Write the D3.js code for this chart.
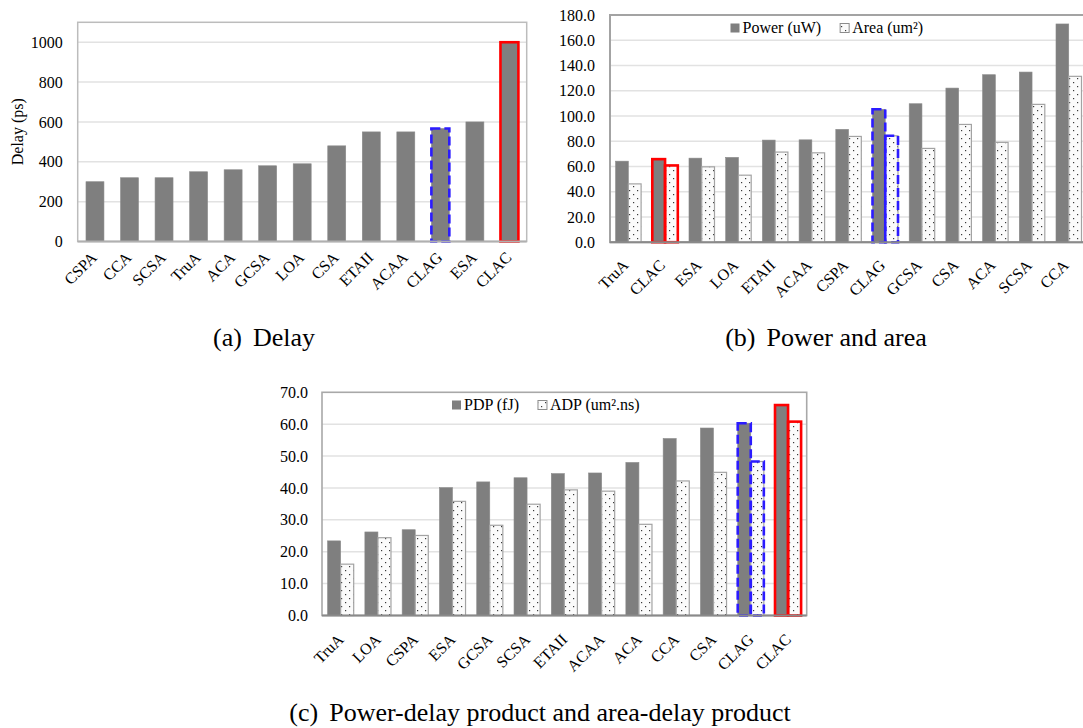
<!DOCTYPE html>
<html>
<head>
<meta charset="utf-8">
<script src="https://cdn.jsdelivr.net/npm/d3@7"></script>
<style>
  body { margin: 0; background: #fff; }
  svg { display: block; }
  text { font-family: "Liberation Serif", "Times New Roman", serif; fill: #000; }
</style>
</head>
<body>
<svg id="fig" width="1083" height="728"></svg>
<script>
// (a) Delay of each adder, in ps
const delayCategories = ["CSPA", "CCA", "SCSA", "TruA", "ACA", "GCSA", "LOA", "CSA", "ETAII", "ACAA", "CLAG", "ESA", "CLAC"];
const delayValues = [300, 320, 320, 350, 360, 380, 390, 480, 550, 550, 567, 600, 1000];
const delayTicks = [0, 200, 400, 600, 800, 1000];

// (b) Power (uW) and area (um²)
const paCategories = ["TruA", "CLAC", "ESA", "LOA", "ETAII", "ACAA", "CSPA", "CLAG", "GCSA", "CSA", "ACA", "SCSA", "CCA"];
const powerValues = [64.2, 65.8, 66.6, 67.2, 80.9, 81.1, 89.4, 105.3, 109.7, 122.1, 132.7, 134.8, 172.9];
const areaValues = [46.2, 60.8, 59.7, 53.1, 71.4, 70.8, 83.8, 84.3, 74.3, 93.3, 79.1, 109.2, 131.4];
const paTicks = [0, 20, 40, 60, 80, 100, 120, 140, 160, 180];
const paLegend = ["Power (uW)", "Area (um²)"];

// (c) Power-delay product (fJ) and area-delay product (um².ns)
const pdCategories = ["TruA", "LOA", "CSPA", "ESA", "GCSA", "SCSA", "ETAII", "ACAA", "ACA", "CCA", "CSA", "CLAG", "CLAC"];
const pdpValues = [23.4, 26.2, 26.9, 40.1, 41.9, 43.2, 44.5, 44.7, 48.0, 55.5, 58.8, 60.3, 66.0];
const adpValues = [16.1, 24.4, 25.1, 35.8, 28.3, 34.9, 39.4, 39.0, 28.6, 42.2, 44.9, 48.3, 60.8];
const pdTicks = [0, 10, 20, 30, 40, 50, 60, 70];
const pdLegend = ["PDP (fJ)", "ADP (um².ns)"];

// Designs called out with an outline
const solidOutlined = "CLAC";
const dashedOutlined = "CLAG";

const captions = [
  { tag: "(a)", label: "Delay" },
  { tag: "(b)", label: "Power and area" },
  { tag: "(c)", label: "Power-delay product and area-delay product" }
];

const FONT = "'Liberation Serif', 'Times New Roman', serif";
const GREY = "#7f7f7f";
const RED = "#ff0000";
const BLUE = "#2b1bff";

const svg = d3.select("#fig");
const defs = svg.append("defs");

// light dotted fill used for the second series
const pat = defs.append("pattern")
  .attr("id", "dots")
  .attr("patternUnits", "userSpaceOnUse")
  .attr("width", 8).attr("height", 8);
pat.append("rect").attr("width", 8).attr("height", 8).attr("fill", "#fbfbfb");
pat.append("rect").attr("x", 1).attr("y", 2).attr("width", 1.2).attr("height", 1.2).attr("fill", "#3a3a3a");
pat.append("rect").attr("x", 5).attr("y", 6).attr("width", 1.2).attr("height", 1.2).attr("fill", "#3a3a3a");

function drawPanel(cfg) {
  const g = svg.append("g");
  const x = d3.scaleBand()
    .domain(cfg.categories)
    .range([cfg.left, cfg.right])
    .paddingInner(cfg.pad)
    .paddingOuter(cfg.pad / 2);
  const y = d3.scaleLinear().domain([0, cfg.max]).range([cfg.bottom, cfg.top]);

  // horizontal gridlines
  g.selectAll("line.grid")
    .data(cfg.ticks.filter(t => t > 0 && t < cfg.max))
    .join("line")
    .attr("x1", cfg.left).attr("x2", cfg.right)
    .attr("y1", d => y(d)).attr("y2", d => y(d))
    .attr("stroke", "#e2e2e2").attr("stroke-width", 1.5);

  // plot-area frame
  g.append("rect")
    .attr("x", cfg.left).attr("y", cfg.top)
    .attr("width", cfg.right - cfg.left).attr("height", cfg.bottom - cfg.top)
    .attr("fill", "none")
    .attr("stroke", cfg.frameColor).attr("stroke-width", cfg.frameWidth);

  const sub = d3.scaleBand()
    .domain(cfg.series.map((s, i) => i))
    .range([0, x.bandwidth()]);

  cfg.series.forEach((s, i) => {
    const rows = cfg.categories.map((c, j) => ({ c, v: s.values[j] }));
    g.selectAll(null)
      .data(rows)
      .join("rect")
      .attr("x", d => x(d.c) + sub(i))
      .attr("width", sub.bandwidth())
      .attr("y", d => y(d.v))
      .attr("height", d => y(0) - y(d.v))
      .attr("fill", s.fill)
      .attr("stroke", s.stroke)
      .attr("stroke-width", s.strokeWidth);
  });

  // outlined designs
  cfg.series.forEach((s, i) => {
    const rows = cfg.categories
      .map((c, j) => ({ c, v: s.values[j] }))
      .filter(d => d.c === solidOutlined || d.c === dashedOutlined);
    g.selectAll(null)
      .data(rows)
      .join("rect")
      .attr("x", d => x(d.c) + sub(i))
      .attr("width", sub.bandwidth())
      .attr("y", d => y(d.v))
      .attr("height", d => y(0) - y(d.v))
      .attr("fill", "none")
      .attr("stroke", d => d.c === solidOutlined ? RED : BLUE)
      .attr("stroke-width", d => d.c === solidOutlined ? 2.6 : 2.6)
      .attr("stroke-dasharray", d => d.c === solidOutlined ? null : "9,4");
  });

  // category axis
  g.append("line")
    .attr("x1", cfg.left).attr("x2", cfg.right)
    .attr("y1", cfg.bottom).attr("y2", cfg.bottom)
    .attr("stroke", cfg.axisColor).attr("stroke-width", 2);

  const xa = g.append("g")
    .attr("transform", `translate(0,${cfg.bottom})`)
    .call(d3.axisBottom(x).tickSize(0));
  xa.select(".domain").remove();
  xa.attr("font-family", FONT).attr("font-size", 16);
  xa.selectAll("text")
    .attr("text-anchor", "end")
    .attr("x", 0).attr("y", 0).attr("dy", 0)
    .attr("transform", `translate(${cfg.labelDx},${cfg.labelDy}) rotate(-45)`);

  // value axis
  const ya = g.append("g")
    .attr("transform", `translate(${cfg.left},0)`)
    .call(d3.axisLeft(y).tickValues(cfg.ticks).tickSize(0).tickPadding(cfg.tickPad).tickFormat(cfg.format));
  ya.select(".domain").remove();
  ya.attr("font-family", FONT).attr("font-size", 16);

  // legend
  if (cfg.legend) {
    let lx = cfg.legend.x;
    cfg.series.forEach((s, i) => {
      g.append("rect")
        .attr("x", lx).attr("y", cfg.legend.y - 9.5)
        .attr("width", 9).attr("height", 9)
        .attr("fill", s.fill)
        .attr("stroke", s.legendStroke)
        .attr("stroke-width", 1);
      const t = g.append("text")
        .attr("x", lx + 12).attr("y", cfg.legend.y)
        .attr("font-size", 16)
        .text(cfg.legend.labels[i]);
      lx += 12 + t.node().getComputedTextLength() + 19;
    });
  }
  return g;
}

// (a)
drawPanel({
  left: 77.7, right: 526.7, top: 22.3, bottom: 241.5,
  max: 1100, ticks: delayTicks, format: d3.format("d"),
  categories: delayCategories, pad: 0.48,
  series: [{ values: delayValues, fill: GREY, stroke: "#8a8a8a", strokeWidth: 0.6 }],
  frameColor: "#bcbcbc", frameWidth: 1.5, axisColor: "#b0b0b0",
  tickPad: 15, labelDx: 3, labelDy: 17
});
svg.append("text")
  .attr("transform", "translate(23,131.7) rotate(-90)")
  .attr("text-anchor", "middle")
  .attr("font-size", 16)
  .text("Delay (ps)");

// (b)
drawPanel({
  left: 610, right: 610 + 13 * 36.7, top: 15, bottom: 242.2,
  max: 180, ticks: paTicks, format: d3.format(".1f"),
  categories: paCategories, pad: 0.305,
  series: [
    { values: powerValues, fill: GREY, stroke: "#8a8a8a", strokeWidth: 0.6, legendStroke: "none" },
    { values: areaValues, fill: "url(#dots)", stroke: "#a3a3a3", strokeWidth: 1.2, legendStroke: "#8c8c8c" }
  ],
  frameColor: "#a3a3a3", frameWidth: 2, axisColor: "#8a8a8a",
  tickPad: 15, labelDx: 1, labelDy: 24,
  legend: { x: 730.5, y: 33, labels: paLegend }
});

// (c)
drawPanel({
  left: 322, right: 806.7, top: 392.3, bottom: 615.5,
  max: 70, ticks: pdTicks, format: d3.format(".1f"),
  categories: pdCategories, pad: 0.30,
  series: [
    { values: pdpValues, fill: GREY, stroke: "#8a8a8a", strokeWidth: 0.6, legendStroke: "none" },
    { values: adpValues, fill: "url(#dots)", stroke: "#a3a3a3", strokeWidth: 1.2, legendStroke: "#8c8c8c" }
  ],
  frameColor: "#a8a8a8", frameWidth: 1.6, axisColor: "#8a8a8a",
  tickPad: 14, labelDx: 4, labelDy: 25,
  legend: { x: 452, y: 410, labels: pdLegend }
});

// sub-figure captions
const capPos = [
  { x: 264, y: 346 },
  { x: 826, y: 346 },
  { x: 540, y: 721 }
];
captions.forEach((c, i) => {
  const t = svg.append("text")
    .attr("x", capPos[i].x).attr("y", capPos[i].y)
    .attr("text-anchor", "middle")
    .attr("font-size", 26);
  t.append("tspan").text(c.tag);
  t.append("tspan").attr("dx", 11).text(c.label);
});
</script>
</body>
</html>
